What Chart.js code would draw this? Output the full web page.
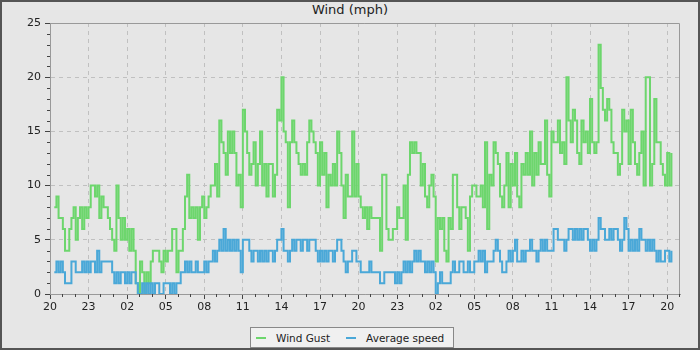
<!DOCTYPE html>
<html>
<head>
<meta charset="utf-8">
<title>Wind (mph)</title>
<script src="https://cdn.jsdelivr.net/npm/chart.js@4.4.1/dist/chart.umd.min.js"></script>
<style>
    html, body { margin: 0; padding: 0; background: #e6e6e6; }
    #wrap {
        position: relative; width: 700px; height: 350px; box-sizing: border-box;
        border: 2px solid #555; background: #e6e6e6; overflow: hidden;
        font-family: "DejaVu Sans", sans-serif; color: #222;
    }
    #title { position: absolute; left: 0; top: 0; width: 696px; text-align: center; font-size: 13px; line-height: 15px; }
    #chart { position: absolute; left: 0; top: 0; }
    #legend {
        position: absolute; left: 248px; top: 325px; height: 19px;
        border: 1px solid #888; background: #f0f0f0;
        display: flex; align-items: center; padding: 0 9px 0 5px;
        font-size: 10.5px; white-space: nowrap;
    }
    .item { display: flex; align-items: center; }
    .item + .item { margin-left: 16px; }
    .swatch { width: 10px; height: 2px; margin-right: 10px; }
</style>
</head>
<body>
<div id="wrap">
    <div id="title">Wind (mph)</div>
    <canvas id="chart" width="696" height="346"></canvas>
    <div id="legend"></div>
</div>
<script>
// 10 minute samples, first one at 20:20 on day one
const firstSampleMinutes = 20;
const sampleMinutes = 10;

const hourLabels = ['20', '23', '02', '05', '08', '11', '14', '17', '20', '23', '02', '05', '08', '11', '14', '17', '20'];

const gustValues = [
    8, 9, 7, 7, 6, 4,   4, 6, 7, 8, 5, 7,   8, 6, 8, 7, 8, 10,   10, 9, 10, 7, 9, 8,
    8, 7, 6, 5, 4, 10,  7, 5, 7, 5, 6, 4,   6, 4, 1, 0, 3, 2,    0, 2, 1, 3, 4, 4,
    4, 3, 2, 4, 3, 4,   4, 6, 6, 2, 4, 4,   6, 9, 11, 7, 8, 7,   8, 5, 8, 9, 7, 8,
    9, 10, 10, 12, 9, 16,   14, 13, 11, 15, 13, 15,   13, 10, 11, 8, 17, 15,   13, 11, 12, 14, 10, 12,
    15, 10, 12, 9, 12, 12,  9, 11, 17, 16, 20, 15,    14, 8, 14, 16, 14, 13,   12, 11, 12, 11, 14, 16,
    15, 14, 13, 10, 14, 11, 13, 8, 11, 10, 12, 10,    15, 13, 10, 7, 11, 9,    9, 15, 9, 12, 9, 8,
    7, 8, 6, 8, 7, 7,   7, 7, 4, 11, 11, 6,   5, 5, 6, 6, 8, 7,   7, 10, 5, 11, 14, 13,
    14, 13, 13, 10, 12, 9,  8, 10, 11, 9, 3, 7,   6, 7, 4, 3, 7, 6,   11, 11, 8, 6, 8, 8,
    7, 4, 9, 10, 10, 9,     9, 10, 8, 14, 6, 11,  10, 14, 13, 12, 9, 8,   10, 13, 8, 12, 10, 13,
    9, 8, 12, 11, 13, 11,   15, 10, 13, 11, 14, 12,   12, 16, 11, 9, 15, 14,   14, 16, 13, 14, 12, 20,
    16, 14, 17, 16, 13, 12, 16, 14, 15, 13, 18, 14,   13, 14, 23, 19, 17, 16,   18, 17, 14, 13, 13, 11,
    12, 17, 15, 16, 12, 17, 14, 12, 11, 13, 15, 10,   20, 20, 10, 12, 18, 14,   14, 12, 11, 10, 13, 10,
    13
];

const avgValues = [
    2, 3, 2, 3, 2, 1,   1, 1, 3, 3, 2, 2,   2, 3, 2, 3, 2, 3,   3, 2, 4, 2, 3, 3,
    3, 3, 3, 2, 1, 2,   1, 2, 2, 1, 2, 1,   2, 2, 1, 0, 0, 1,   0, 1, 0, 1, 0, 1,
    1, 0, 0, 1, 1, 1,   0, 1, 0, 1, 1, 2,   2, 3, 2, 3, 2, 2,   3, 2, 2, 2, 3, 2,
    3, 3, 4, 3, 4, 5,   4, 6, 4, 5, 4, 5,   4, 5, 4, 2, 5, 5,   5, 4, 3, 4, 4, 3,
    4, 3, 4, 3, 4, 4,   3, 4, 5, 5, 6, 4,   4, 3, 4, 5, 4, 5,   5, 4, 5, 5, 4, 5,
    5, 5, 4, 3, 4, 3,   4, 3, 4, 4, 3, 4,   5, 5, 4, 3, 2, 3,   3, 4, 4, 3, 3, 2,
    2, 2, 2, 3, 2, 2,   2, 2, 1, 1, 2, 2,   2, 2, 2, 1, 2, 1,   2, 3, 2, 3, 2, 3,
    4, 3, 4, 3, 3, 2,   3, 2, 3, 2, 0, 1,   2, 1, 1, 1, 1, 2,   3, 2, 2, 3, 3, 2,
    2, 3, 2, 2, 3, 3,   4, 3, 4, 2, 3, 3,   3, 4, 5, 4, 3, 2,   2, 3, 4, 3, 4, 5,
    3, 3, 4, 3, 4, 4,   5, 4, 4, 3, 4, 5,   4, 5, 4, 4, 4, 6,   6, 5, 5, 5, 4, 5,
    6, 6, 5, 6, 5, 6,   5, 6, 6, 5, 4, 5,   4, 5, 7, 6, 6, 5,   5, 6, 5, 6, 6, 5,
    4, 5, 7, 6, 4, 5,   4, 5, 4, 6, 5, 5,   4, 5, 4, 5, 4, 3,   4, 3, 3, 4, 4, 3,
    4
];

document.addEventListener('DOMContentLoaded', function() {
    // x = hours after 20:00 on the first day
    function toPoints(values) {
        return values.map((v, i) => ({ x: (firstSampleMinutes + i * sampleMinutes) / 60, y: v }));
    }

    // minor ticks every hour / every mph, plus the top and right frame edges
    const frameAndMinorTicks = {
        id: 'frameAndMinorTicks',
        afterDraw(chart) {
            const { ctx, chartArea, scales } = chart;
            ctx.save();
            ctx.strokeStyle = '#444';
            ctx.lineWidth = 1;
            ctx.beginPath();
            for (let h = 1; h <= 49; h++) {
                if (h % 3 === 0) continue;
                const px = Math.round(scales.x.getPixelForValue(h)) - 0.5;
                ctx.moveTo(px, chartArea.bottom);
                ctx.lineTo(px, chartArea.bottom + 3);
            }
            for (let v = 1; v < 25; v++) {
                if (v % 5 === 0) continue;
                const py = Math.round(scales.y.getPixelForValue(v)) + 0.5;
                ctx.moveTo(chartArea.left - 3, py);
                ctx.lineTo(chartArea.left, py);
            }
            ctx.stroke();

            ctx.strokeStyle = '#999';
            ctx.beginPath();
            ctx.moveTo(chartArea.left, chartArea.top + 0.5);
            ctx.lineTo(chartArea.right - 0.5, chartArea.top + 0.5);
            ctx.lineTo(chartArea.right - 0.5, chartArea.bottom);
            ctx.stroke();
            ctx.restore();
        }
    };

    const tickFont = { family: 'DejaVu Sans', size: 11 };

    const chart = new Chart(document.getElementById('chart').getContext('2d'), {
        type: 'line',
        data: {
            datasets: [{
                label: 'Wind Gust',
                data: toPoints(gustValues),
                borderColor: '#6dd66d',
                backgroundColor: '#6dd66d',
                stepped: true,
                order: 2
            }, {
                label: 'Average speed',
                data: toPoints(avgValues),
                borderColor: '#4aa8d8',
                backgroundColor: '#4aa8d8',
                stepped: true,
                order: 1
            }]
        },
        options: {
            responsive: false,
            animation: false,
            devicePixelRatio: 1,
            layout: { padding: { top: 21, right: 18, left: 0, bottom: 0 } },
            elements: {
                point: { radius: 0 },
                line: { borderWidth: 2, tension: 0, fill: false }
            },
            plugins: {
                legend: { display: false },
                title: { display: false },
                tooltip: { enabled: false }
            },
            scales: {
                x: {
                    type: 'linear',
                    min: 0,
                    max: 49,
                    afterFit: function(scale) { scale.height = 54; },
                    afterBuildTicks: function(scale) {
                        scale.ticks = scale.ticks.filter(t => t.value % 3 === 0);
                    },
                    ticks: {
                        stepSize: 3,
                        includeBounds: false,
                        autoSkip: false,
                        maxRotation: 0,
                        padding: 2,
                        color: '#222',
                        font: tickFont,
                        callback: function(value) { return hourLabels[Math.round(value / 3)]; }
                    },
                    grid: { color: '#c0c0c0', lineWidth: 1, tickLength: 5, tickColor: '#444' },
                    border: { color: '#999', width: 1, dash: [4, 4] }
                },
                y: {
                    min: 0,
                    max: 25,
                    afterFit: function(scale) { scale.width = 48; },
                    ticks: { stepSize: 5, padding: 4, color: '#222', font: tickFont },
                    grid: { color: '#c0c0c0', lineWidth: 1, tickLength: 5, tickColor: '#444' },
                    border: { color: '#999', width: 1, dash: [4, 4] }
                }
            }
        },
        plugins: [frameAndMinorTicks]
    });

    // legend box built from the datasets
    const legend = document.getElementById('legend');
    for (const ds of chart.data.datasets) {
        const item = document.createElement('div');
        item.className = 'item';
        item.innerHTML = `<span class="swatch" style="background:${ds.borderColor}"></span><span>${ds.label}</span>`;
        legend.appendChild(item);
    }
});
</script>
</body>
</html>
